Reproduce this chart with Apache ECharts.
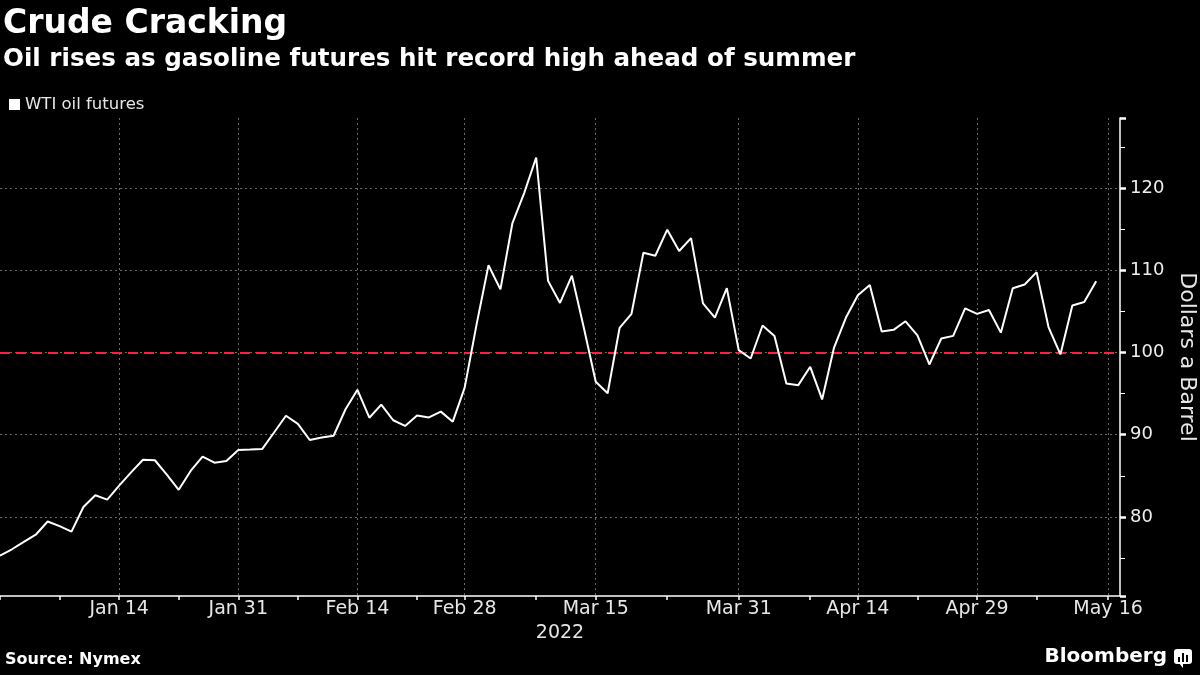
<!DOCTYPE html>
<html>
<head>
<meta charset="utf-8">
<script src="https://cdn.jsdelivr.net/npm/echarts@6/dist/echarts.min.js"></script>
<style>
html,body{margin:0;padding:0;background:#000;}
#chart{width:1200px;height:675px;}
</style>
</head>
<body>
<div id="chart"></div>
<script>
// Trading days (2021-12-31 .. 2022-05-17)
const categories = ['Dec 31','Jan 3','Jan 4','Jan 5','Jan 6','Jan 7','Jan 10','Jan 11','Jan 12','Jan 13','Jan 14',
  'Jan 18','Jan 19','Jan 20','Jan 21','Jan 24','Jan 25','Jan 26','Jan 27','Jan 28','Jan 31',
  'Feb 1','Feb 2','Feb 3','Feb 4','Feb 7','Feb 8','Feb 9','Feb 10','Feb 11','Feb 14','Feb 15','Feb 16','Feb 17','Feb 18',
  'Feb 22','Feb 23','Feb 24','Feb 25','Feb 28',
  'Mar 1','Mar 2','Mar 3','Mar 4','Mar 7','Mar 8','Mar 9','Mar 10','Mar 11','Mar 14','Mar 15','Mar 16','Mar 17','Mar 18',
  'Mar 21','Mar 22','Mar 23','Mar 24','Mar 25','Mar 28','Mar 29','Mar 30','Mar 31',
  'Apr 1','Apr 4','Apr 5','Apr 6','Apr 7','Apr 8','Apr 11','Apr 12','Apr 13','Apr 14','Apr 18','Apr 19','Apr 20','Apr 21','Apr 22',
  'Apr 25','Apr 26','Apr 27','Apr 28','Apr 29',
  'May 2','May 3','May 4','May 5','May 6','May 9','May 10','May 11','May 12','May 13','May 16','May 17'];

// WTI oil futures, dollars a barrel
const wti = [75.3,76.08,76.99,77.85,79.46,78.90,78.23,81.22,82.64,82.12,83.82,
  85.43,86.96,86.90,85.14,83.31,85.60,87.35,86.61,86.82,88.15,
  88.20,88.26,90.27,92.31,91.32,89.36,89.66,89.88,93.10,95.46,92.07,93.66,91.76,91.07,
  92.35,92.10,92.81,91.59,95.72,
  103.41,110.60,107.67,115.68,119.40,123.70,108.70,106.02,109.33,103.01,96.44,95.04,102.98,104.70,
  112.12,111.76,114.93,112.34,113.90,105.96,104.24,107.82,100.28,
  99.27,103.28,102.00,96.23,96.03,98.26,94.29,100.60,104.25,106.95,108.21,102.56,102.75,103.79,102.07,
  98.54,101.70,102.02,105.36,104.69,
  105.17,102.41,107.81,108.26,109.77,103.09,99.76,105.71,106.13,108.66];

const xLabels = ['Jan 14','Jan 31','Feb 14','Feb 28','Mar 15','Mar 31','Apr 14','Apr 29','May 16'];
const xMinorTicks = ['Dec 31','Jan 7','Jan 24','Feb 7','Feb 22','Mar 8','Mar 23','Apr 8','Apr 22','May 6'];
const refLevel = 100;

const labelSet = new Set(xLabels);
const tickSet = new Set(xLabels.concat(xMinorTicks));
const FONT = '"DejaVu Sans", "Liberation Sans", sans-serif';

const chart = echarts.init(document.getElementById('chart'));
chart.setOption({
  backgroundColor: '#000',
  animation: false,
  grid: {left: 0, right: 80, top: 118, bottom: 79, containLabel: false, outerBoundsMode: 'none'},
  legend: {
    show: true, left: 4, top: 91, icon: 'rect', itemWidth: 11, itemHeight: 11,
    textStyle: {color: '#e6e6e6', fontSize: 16.5, fontFamily: FONT},
    data: [{name: 'WTI oil futures', itemStyle: {color: '#fff'}}]
  },
  xAxis: {
    type: 'category', data: categories, boundaryGap: false,
    name: '2022', nameLocation: 'middle', nameGap: 27,
    nameTextStyle: {color: '#e6e6e6', fontSize: 19, fontFamily: FONT},
    axisLine: {show: true, lineStyle: {color: '#fff', width: 1.5}},
    axisTick: {show: true, length: 4, lineStyle: {color: '#fff', width: 1.5},
      interval: (i, v) => tickSet.has(v)},
    axisLabel: {color: '#e6e6e6', fontSize: 19, fontFamily: FONT, margin: 4,
      interval: (i, v) => labelSet.has(v)},
    splitLine: {show: true, interval: (i, v) => labelSet.has(v),
      lineStyle: {color: '#6a6a6a', width: 1, type: [2, 3]}}
  },
  yAxis: {
    type: 'value', position: 'right', min: 70.4, max: 128.5, splitNumber: 5,
    name: 'Dollars a Barrel', nameLocation: 'middle', nameRotate: -90, nameGap: 50,
    nameTextStyle: {color: '#e6e6e6', fontSize: 22, fontFamily: FONT},
    axisLine: {show: true, lineStyle: {color: '#fff', width: 1.5}},
    axisTick: {show: true, length: 6, lineStyle: {color: '#fff', width: 2.5}},
    minorTick: {show: true, splitNumber: 2, length: 5, lineStyle: {color: '#fff', width: 1}},
    axisLabel: {color: '#eeeeee', fontSize: 18, fontFamily: FONT, margin: 10,
      showMinLabel: false, showMaxLabel: false},
    splitLine: {show: true, showMinLine: false, showMaxLine: false,
      lineStyle: {color: '#6a6a6a', width: 1, type: [2, 3]}}
  },
  series: [{
    name: 'WTI oil futures', type: 'line', data: wti, showSymbol: false, symbol: 'none',
    lineStyle: {color: '#fff', width: 2}, itemStyle: {color: '#fff'},
    z: 5,
    markLine: {
      silent: true, symbol: 'none', label: {show: false},
      lineStyle: {color: '#ff1f3d', type: [10, 6], width: 2},
      data: [{yAxis: refLevel}]
    }
  }],
  graphic: [
    {type: 'text', left: 3, top: 8, style: {text: 'Crude Cracking', fill: '#fff',
      font: 'bold 33px ' + FONT}},
    {type: 'text', left: 3, top: 47, style: {text: 'Oil rises as gasoline futures hit record high ahead of summer',
      fill: '#fff', font: 'bold 24.6px ' + FONT}},
    {type: 'text', left: 5, top: 652, style: {text: 'Source: Nymex', fill: '#fff',
      font: 'bold 16px ' + FONT}},
    {type: 'text', right: 33, top: 647, style: {text: 'Bloomberg', fill: '#fff',
      font: 'bold 20px ' + FONT}},
    {type: 'group', right: 8, top: 649, children: [
      {type: 'rect', shape: {x: 0, y: 0, width: 18, height: 15, r: 3}, style: {fill: '#fff'}},
      {type: 'polygon', shape: {points: [[5, 14], [9, 19], [9, 14]]}, style: {fill: '#fff'}},
      {type: 'rect', shape: {x: 4, y: 8, width: 2, height: 5}, style: {fill: '#000'}},
      {type: 'rect', shape: {x: 8, y: 4, width: 2, height: 9}, style: {fill: '#000'}},
      {type: 'rect', shape: {x: 12, y: 6, width: 2, height: 7}, style: {fill: '#000'}}
    ]}
  ]
});
</script>
</body>
</html>
